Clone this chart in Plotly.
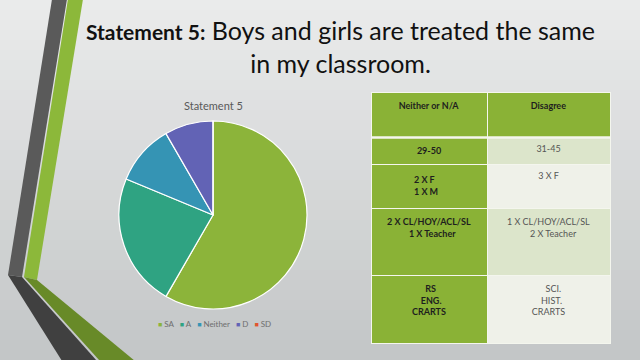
import plotly.graph_objects as go

# ---------------- data ----------------
categories = ["SA", "A", "Neither", "D", "SD"]
responses = [28, 11, 5, 4, 0]
slice_colors = ["#8CB43A", "#2FA382", "#3594B4", "#6263B5", "#E0552F"]

table_header = ["Neither or N/A", "Disagree"]
neither_col = ["29-50", ["2 X F", "1 X M"], ["2 X CL/HOY/ACL/SL", "1 X Teacher"], ["RS", "ENG.", "CRARTS"]]
disagree_col = ["31-45", "3 X F", ["1 X CL/HOY/ACL/SL", "2 X Teacher"], ["SCI.", "HIST.", "CRARTS"]]

title_bold = "Statement 5:"
title_rest = "Boys and girls are treated the same<br>in my classroom."
pie_title = "Statement 5"

W, H = 640, 360
FONT = "Lato"

def px(x, y):
    return x / W, 1 - y / H

fig = go.Figure()

# ---------------- pie ----------------
fig.add_trace(go.Pie(
    labels=categories, values=responses, sort=False, direction="clockwise", rotation=0,
    marker=dict(colors=slice_colors, line=dict(color="white", width=1.2)),
    textinfo="none", hoverinfo="label+value", showlegend=False,
    domain=dict(x=[119 / W, 307 / W], y=[1 - 309 / H, 1 - 121 / H]),
))

# ---------------- table ----------------
# plotly tables left-align the lines of a multi-line cell inside a centred block,
# so shorter lines get leading spaces to look centred (layout only).
NB = "&nbsp;"
def sp(size):
    return '<span style="font-size:%dpx">&nbsp;</span>' % size

def lead(k):
    return NB * k

col1 = [
    "<b>%s</b>" % neither_col[0],
    "<b>%s<br>%s</b>" % tuple(neither_col[1]) + sp(23),
    "<b>%s<br>%s%s</b>" % (neither_col[2][0], lead(10), neither_col[2][1]) + "<br><br>" + sp(33),
    "<b>%s%s<br>%s%s<br>%s</b>" % (lead(6), neither_col[3][0], lead(4), neither_col[3][1], neither_col[3][2])
    + "<br>" + sp(37),
]
col2 = [
    disagree_col[0],
    disagree_col[1],
    "%s<br>%s%s" % (disagree_col[2][0], lead(10), disagree_col[2][1]),
    "%s%s<br>%s%s<br>%s" % (lead(6), disagree_col[3][0], lead(4), disagree_col[3][1], disagree_col[3][2]),
]

green = "#8AB236"
fig.add_trace(go.Table(
    domain=dict(x=[371 / W, 610 / W], y=[1 - 345 / H, 1 - 92 / H]),
    columnwidth=[116, 123],
    header=dict(values=["<b>%s</b>" % h for h in table_header], height=45,
                fill_color=green, line=dict(color="#F4F6EE", width=1),
                font=dict(family=FONT, size=9, color="#1E1E1E"), align="center"),
    cells=dict(values=[col1, col2], height=22,
               fill_color=[[green] * 4, ["#DCE5CB", "#EFF1E9", "#DCE5CB", "#EFF1E9"]],
               line=dict(color="#F4F6EE", width=1),
               font=dict(family=FONT, size=9, color=["#1E1E1E", "#555555"]), align="center"),
))

# ---------------- background & decoration ----------------
shapes = []
top = (234, 235, 235)
bot = (195, 198, 199)
n = 36
for i in range(n):
    t = i / (n - 1)
    c = tuple(int(round(top[k] + (bot[k] - top[k]) * t)) for k in range(3))
    shapes.append(dict(type="rect", xref="paper", yref="paper", x0=0, x1=1,
                       y0=1 - (i + 1) / n - 0.002, y1=1 - i / n,
                       fillcolor="rgb(%d,%d,%d)" % c, line=dict(width=0), layer="below"))

def poly(pts, color):
    p = "M " + " L ".join("%.4f,%.4f" % px(x, y) for x, y in pts) + " Z"
    return dict(type="path", xref="paper", yref="paper", path=p,
                fillcolor=color, line=dict(width=0), layer="below")

shapes.append(poly([(52, -1), (67, -1), (22, 277), (8, 275)], "#5A5A5A"))
shapes.append(poly([(68, -1), (83, -1), (37, 280), (24, 277)], "#8CB83A"))
shapes.append(poly([(8, 275), (22, 277), (97, 361), (62, 361)], "#404040"))
shapes.append(poly([(24, 277), (37, 280), (135, 361), (100, 361)], "#688A28"))
# thicker white rule under the table header
shapes.append(dict(type="line", xref="paper", yref="paper", x0=371 / W, x1=610 / W,
                   y0=1 - 137.5 / H, y1=1 - 137.5 / H, line=dict(color="#F4F6EE", width=2.5)))

# ---------------- annotations ----------------
annotations = [
    dict(xref="paper", yref="paper", x=340 / W, y=1 - 46 / H, xanchor="center", yanchor="middle",
         text='<span style="font-size:21px"><b>%s</b></span> %s' % (title_bold, title_rest),
         showarrow=False, font=dict(family=FONT, size=25, color="#111111"), align="center"),
    dict(xref="paper", yref="paper", x=213 / W, y=1 - 105 / H, xanchor="center", yanchor="middle",
         text=pie_title, showarrow=False, font=dict(family=FONT, size=11, color="#595959")),
]
legend_parts = []
for name, col in zip(categories, slice_colors):
    legend_parts.append('<span style="color:%s;font-size:7px">■</span>&nbsp;%s' % (col, name))
annotations.append(dict(xref="paper", yref="paper", x=214 / W, y=1 - 324 / H,
                        xanchor="center", yanchor="middle", text="&nbsp;&nbsp;&nbsp;".join(legend_parts),
                        showarrow=False, font=dict(family=FONT, size=8, color="#6E6E6E")))

fig.update_layout(width=W, height=H, margin=dict(l=0, r=0, t=0, b=0),
                  paper_bgcolor="#DADCDC", plot_bgcolor="rgba(0,0,0,0)",
                  shapes=shapes, annotations=annotations, showlegend=False)

fig.write_html("out.html", config={"displayModeBar": False},
               post_script="document.body.style.margin='0';")
